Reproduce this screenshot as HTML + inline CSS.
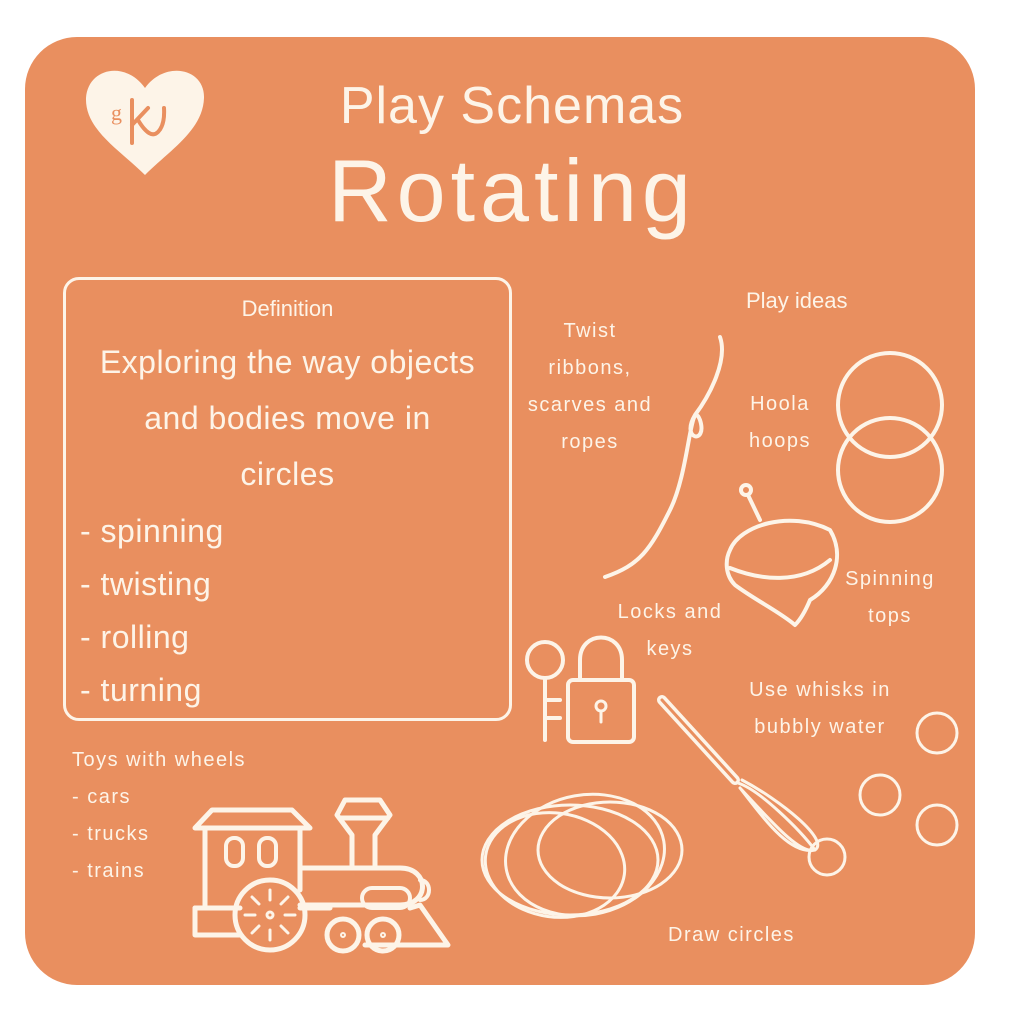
<!DOCTYPE html>
<html><head><style>
body{margin:0;width:1024px;height:1024px;background:#fff;position:relative;overflow:hidden;font-family:"Liberation Sans",sans-serif;color:#fdf4e8}
.card{position:absolute;left:25px;top:37px;width:950px;height:948px;background:#e98f5f;border-radius:52px}
.t{position:absolute;white-space:nowrap;text-align:center}
.box{position:absolute;left:63px;top:277px;width:443px;height:438px;border:3px solid #fdf4e8;border-radius:16px}
svg{position:absolute;left:0;top:0}
</style></head><body>
<div class="card"></div>
<svg width="1024" height="1024" fill="none" stroke="#fdf4e8" stroke-width="5" stroke-linecap="round" stroke-linejoin="round">
<path d="M145 175 C120 150 85 130 86 98 C88 68 125 60 145 88 C165 60 205 68 204 98 C203 130 170 150 145 175Z" fill="#fdf4e8" stroke="none"/>
<text x="111" y="120" font-size="22" fill="#e98f5f" stroke="none" font-family="Liberation Serif">g</text>
<path d="M132 100 V143 M132 125 L148 108 M138 120 Q150 140 158 132 Q165 125 164 108" stroke="#e98f5f" stroke-width="4"/>
<path d="M720 337 C728 360 710 395 695 415 C680 440 708 445 700 420 C690 395 690 470 670 510 C650 550 640 565 605 577" stroke-width="4"/>
<circle cx="890" cy="405" r="52" stroke-width="4"/><circle cx="890" cy="470" r="52" stroke-width="4"/>
<circle cx="746" cy="490" r="5" stroke-width="4"/><path d="M748 495 L760 520" stroke-width="4"/>
<path d="M730 550 C740 525 790 510 830 530 C845 555 835 585 810 600 C805 612 800 620 795 625 C780 612 755 600 735 585 C725 575 725 560 730 550Z M730 568 C760 580 800 585 830 560" stroke-width="4"/>
<rect x="568" y="680" width="66" height="62" rx="5" stroke-width="4"/>
<path d="M580 680 V660 C580 630 622 630 622 660 V680" stroke-width="4"/>
<circle cx="601" cy="706" r="5" stroke-width="3"/><path d="M601 711 V722" stroke-width="3"/>
<circle cx="545" cy="660" r="18" stroke-width="4"/><path d="M545 678 V740 M545 700 H560 M545 718 H560" stroke-width="4"/>
<path d="M662 700 L735 780" stroke-width="10"/><path d="M662 700 L735 780" stroke="#e98f5f" stroke-width="3"/>
<path d="M738 783 C760 790 800 830 815 850 C800 855 770 820 740 788 M740 788 C765 820 790 855 815 850 M742 780 C780 800 830 840 815 850" stroke-width="3"/>
<circle cx="827" cy="857" r="18" stroke-width="3"/>
<circle cx="937" cy="733" r="20" stroke-width="3"/><circle cx="880" cy="795" r="20" stroke-width="3"/><circle cx="937" cy="825" r="20" stroke-width="3"/>
<ellipse cx="570" cy="860" rx="88" ry="55" stroke-width="3"/>
<ellipse cx="585" cy="855" rx="80" ry="60" stroke-width="3" transform="rotate(-10 585 855)"/>
<ellipse cx="610" cy="850" rx="72" ry="48" stroke-width="3"/>
<ellipse cx="555" cy="865" rx="70" ry="52" stroke-width="3" transform="rotate(8 555 865)"/>
<path d="M195 828 L212 810 H292 L310 828 Z" stroke-width="5"/>
<path d="M205 828 V908 M300 828 V890" stroke-width="5"/>
<rect x="226" y="838" width="17" height="28" rx="8" stroke-width="4"/><rect x="259" y="838" width="17" height="28" rx="8" stroke-width="4"/>
<path d="M300 868 H400 C430 868 430 905 400 905 H300" stroke-width="5"/>
<rect x="362" y="888" width="48" height="20" rx="10" stroke-width="4"/>
<path d="M420 880 C432 880 432 900 420 900" stroke-width="4"/>
<path d="M345 800 H380 L390 815 L375 835 V868 M345 800 L337 815 L352 835 V868 M340 818 H388" stroke-width="5"/>
<path d="M195 908 H240 M300 908 H330 M410 908 L420 905 L448 945 H365" stroke-width="5"/>
<path d="M195 908 V935 H240" stroke-width="5"/>
<circle cx="270" cy="915" r="35" stroke-width="5"/><circle cx="270" cy="915" r="3" stroke-width="3"/>
<path d="M270 890 V900 M270 930 V940 M245 915 H255 M285 915 H295 M252 897 L259 904 M281 926 L288 933 M288 897 L281 904 M259 926 L252 933" stroke-width="3"/>
<circle cx="343" cy="935" r="16" stroke-width="5"/><circle cx="383" cy="935" r="16" stroke-width="5"/>
<circle cx="343" cy="935" r="2" stroke-width="2"/><circle cx="383" cy="935" r="2" stroke-width="2"/>
</svg>
<div class="t" style="left:0;width:1024px;top:76px;font-size:52px;letter-spacing:1px">Play Schemas</div>
<div class="t" style="left:0;width:1024px;top:140px;font-size:88px;letter-spacing:5px">Rotating</div>
<div class="box"></div>
<div class="t" style="left:63px;width:449px;top:296px;font-size:22px">Definition</div>
<div class="t" style="left:63px;width:449px;top:334px;font-size:32px;line-height:56px;letter-spacing:0.5px">Exploring the way objects<br>and bodies move in<br>circles</div>
<div class="t" style="left:80px;top:505px;font-size:32px;line-height:53px;text-align:left;letter-spacing:0.5px">- spinning<br>- twisting<br>- rolling<br>- turning</div>
<div class="t" style="left:746px;top:288px;font-size:22px">Play ideas</div>
<div class="t" style="left:510px;width:160px;top:313px;font-size:20px;line-height:37px;letter-spacing:1.5px">Twist<br>ribbons,<br>scarves and<br>ropes</div>
<div class="t" style="left:735px;width:90px;top:386px;font-size:20px;line-height:37px;letter-spacing:1.5px">Hoola<br>hoops</div>
<div class="t" style="left:830px;width:120px;top:561px;font-size:20px;line-height:37px;letter-spacing:1.5px">Spinning<br>tops</div>
<div class="t" style="left:605px;width:130px;top:594px;font-size:20px;line-height:37px;letter-spacing:1.5px">Locks and<br>keys</div>
<div class="t" style="left:730px;width:180px;top:672px;font-size:20px;line-height:37px;letter-spacing:1.5px">Use whisks in<br>bubbly water</div>
<div class="t" style="left:72px;top:742px;font-size:20px;line-height:37px;letter-spacing:1.5px;text-align:left">Toys with wheels<br>- cars<br>- trucks<br>- trains</div>
<div class="t" style="left:668px;top:924px;font-size:20px;letter-spacing:1.5px">Draw circles</div>
</body></html>
